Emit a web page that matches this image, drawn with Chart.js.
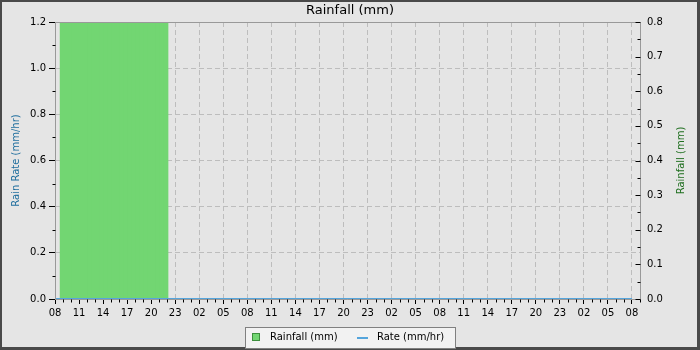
<!DOCTYPE html>
<html>
<head>
<meta charset="utf-8">
<title>Rainfall (mm)</title>
<script src="https://cdn.jsdelivr.net/npm/chart.js@4/dist/chart.umd.min.js"></script>
<style>
    html, body { margin: 0; padding: 0; background: #e5e5e5; }
    canvas { display: block; }
</style>
</head>
<body>
<canvas id="rainChart" width="700" height="350"></canvas>
<script>
// hours after 08:00 on the first day
var tickLabels = ['08', '11', '14', '17', '20', '23', '02', '05', '08', '11', '14', '17', '20',
    '23', '02', '05', '08', '11', '14', '17', '20', '23', '02', '05', '08'];

// rainfall, half hour buckets (all of them run off the top of the 0.8 axis)
var rainHours = [0.87, 1.37, 1.87, 2.37, 2.87, 3.37, 3.87, 4.37, 4.87, 5.37, 5.87, 6.37, 6.87, 7.37,
    7.87, 8.37, 8.87, 9.37, 9.87, 10.37, 10.87, 11.37, 11.87, 12.37, 12.87, 13.37, 13.87];
var rainValues = [0.8, 0.8, 0.8, 0.8, 0.8, 0.8, 0.8, 0.8, 0.8, 0.8, 0.8, 0.8, 0.8, 0.8,
    0.8, 0.8, 0.8, 0.8, 0.8, 0.8, 0.8, 0.8, 0.8, 0.8, 0.8, 0.8, 0.8];

// rain rate, every 3 hours
var rateHours = [0, 3, 6, 9, 12, 15, 18, 21, 24, 27, 30, 33, 36, 39, 42, 45, 48, 51, 54, 57, 60, 63, 66, 69, 72];
var rateValues = [0, 0, 0, 0, 0, 0, 0, 0, 0, 0, 0, 0, 0, 0, 0, 0, 0, 0, 0, 0, 0, 0, 0, 0, 0];

var GREEN = '#72d672';
var BLUE = '#55a5dc';
var GRID = '#bdbdbd';
var FRAME = '#999999';

function toPoints(xs, ys) {
    return xs.map(function (x, i) {
        return {x: x, y: ys[i]};
    });
}

Chart.defaults.font.family = 'DejaVu Sans';
Chart.defaults.font.size = 10;
Chart.defaults.color = '#000';

var chartExtras = {
    id: 'chartExtras',
    beforeDraw: function (chart) {
        var ctx = chart.ctx;
        ctx.save();
        ctx.fillStyle = '#4a4a4a';
        ctx.fillRect(0, 0, chart.width, chart.height);
        ctx.fillStyle = '#e5e5e5';
        ctx.fillRect(2, 2, chart.width - 5, chart.height - 5);
        ctx.restore();
    },
    beforeDatasetsDraw: function (chart) {
        var ctx = chart.ctx, a = chart.chartArea;
        ctx.save();
        ctx.strokeStyle = FRAME;
        ctx.lineWidth = 1;
        ctx.beginPath();
        ctx.moveTo(a.left, Math.round(a.bottom) + 0.5);
        ctx.lineTo(a.right, Math.round(a.bottom) + 0.5);
        ctx.stroke();
        ctx.restore();
    },
    afterDatasetsDraw: function (chart) {
        var ctx = chart.ctx, a = chart.chartArea;
        var x = chart.scales.x, y = chart.scales.y, y1 = chart.scales.y1;
        var l = Math.round(a.left) + 0.5, r = Math.round(a.right) + 0.5;
        var t = Math.round(a.top) + 0.5, b = Math.round(a.bottom) + 0.5;
        var i, p;

        ctx.save();
        ctx.strokeStyle = FRAME;
        ctx.lineWidth = 1;
        ctx.beginPath();
        ctx.moveTo(l, b);
        ctx.lineTo(l, t);
        ctx.lineTo(r, t);
        ctx.lineTo(r, b);
        ctx.stroke();

        ctx.strokeStyle = '#000';
        ctx.beginPath();
        // minor ticks, left axis
        for (i = 1; i < 12; i += 2) {
            p = Math.round(y.getPixelForValue(i / 10)) + 0.5;
            ctx.moveTo(l - 3, p);
            ctx.lineTo(l, p);
        }
        // minor ticks, hours
        for (i = 1; i <= 73; i++) {
            if (i % 3 === 0) continue;
            p = Math.round(x.getPixelForValue(i)) + 0.5;
            ctx.moveTo(p, b);
            ctx.lineTo(p, b + 3);
        }
        // right axis ticks point inwards
        for (i = 0; i <= 16; i++) {
            p = Math.round(y1.getPixelForValue(i / 20)) + 0.5;
            ctx.moveTo(r - (i % 2 === 0 ? 5 : 3), p);
            ctx.lineTo(r, p);
        }
        ctx.stroke();
        ctx.restore();
    },
    afterDraw: function (chart) {
        var ctx = chart.ctx, a = chart.chartArea;
        var sets = chart.data.datasets;

        ctx.save();
        // right axis title reads bottom to top
        ctx.translate(681, (a.top + a.bottom) / 2);
        ctx.rotate(-Math.PI / 2);
        ctx.font = '10px "DejaVu Sans"';
        ctx.fillStyle = '#1e6e1e';
        ctx.textAlign = 'center';
        ctx.textBaseline = 'middle';
        ctx.fillText(chart.options.scales.y1.title.text, 0, 0);
        ctx.restore();

        // legend box
        ctx.save();
        ctx.fillStyle = '#f2f2f2';
        ctx.fillRect(245, 327, 210, 21);
        ctx.strokeStyle = '#808080';
        ctx.lineWidth = 1;
        ctx.strokeRect(245.5, 327.5, 210, 21);

        ctx.fillStyle = GREEN;
        ctx.fillRect(252, 333, 8, 8);
        ctx.strokeStyle = '#3d8f3d';
        ctx.strokeRect(252.5, 333.5, 7, 7);

        ctx.strokeStyle = BLUE;
        ctx.lineWidth = 2;
        ctx.beginPath();
        ctx.moveTo(357, 338);
        ctx.lineTo(368, 338);
        ctx.stroke();

        ctx.font = '10px "DejaVu Sans"';
        ctx.fillStyle = '#000';
        ctx.textBaseline = 'middle';
        ctx.fillText(sets[0].label, 270, 337.5);
        ctx.fillText(sets[1].label, 377, 337.5);
        ctx.restore();
    }
};

new Chart(document.getElementById('rainChart'), {
    type: 'bar',
    data: {
        datasets: [{
            type: 'bar',
            label: 'Rainfall (mm)',
            data: toPoints(rainHours, rainValues),
            yAxisID: 'y1',
            backgroundColor: GREEN,
            borderWidth: 0,
            barPercentage: 1.1,
            categoryPercentage: 1,
            order: 2
        }, {
            type: 'line',
            label: 'Rate (mm/hr)',
            data: toPoints(rateHours, rateValues),
            yAxisID: 'y',
            borderColor: BLUE,
            borderWidth: 2,
            pointRadius: 0,
            tension: 0,
            order: 1
        }]
    },
    options: {
        responsive: false,
        animation: false,
        events: [],
        layout: {
            padding: {left: 0, right: 0, top: 0, bottom: 23}
        },
        scales: {
            x: {
                type: 'linear',
                min: 0,
                max: 73,
                offset: false,
                afterFit: function (scale) { scale.height = 28; },
                border: {display: false, dash: [5, 3]},
                grid: {
                    offset: false,
                    color: GRID,
                    tickColor: '#000',
                    tickLength: 5,
                    tickBorderDash: []
                },
                ticks: {
                    stepSize: 3,
                    includeBounds: false,
                    autoSkip: false,
                    maxRotation: 0,
                    padding: 3,
                    callback: function (v) {
                        return tickLabels[Math.round(v / 3)];
                    }
                }
            },
            y: {
                position: 'left',
                min: 0,
                max: 1.2,
                afterFit: function (scale) { scale.width = 55; },
                border: {display: false, dash: [5, 3]},
                grid: {
                    color: GRID,
                    tickColor: '#000',
                    tickLength: 6,
                    tickBorderDash: []
                },
                ticks: {
                    stepSize: 0.2,
                    padding: 3,
                    callback: function (v) { return v.toFixed(1); }
                },
                title: {
                    display: true,
                    text: 'Rain Rate (mm/hr)',
                    color: '#1f6e9e',
                    padding: {top: 10.5, bottom: 0}
                }
            },
            y1: {
                position: 'right',
                min: 0,
                max: 0.8,
                afterFit: function (scale) { scale.width = 60; },
                border: {display: false},
                grid: {display: false, drawTicks: false, drawOnChartArea: false},
                ticks: {
                    stepSize: 0.1,
                    padding: 7,
                    callback: function (v) { return v.toFixed(1); }
                },
                title: {display: false, text: 'Rainfall (mm)'}
            }
        },
        plugins: {
            legend: {display: false},
            tooltip: {enabled: false},
            title: {
                display: true,
                text: 'Rainfall (mm)',
                color: '#000',
                font: {size: 13, weight: 'normal'},
                padding: {top: 3, bottom: 3.4}
            }
        }
    },
    plugins: [chartExtras]
});
</script>
</body>
</html>
